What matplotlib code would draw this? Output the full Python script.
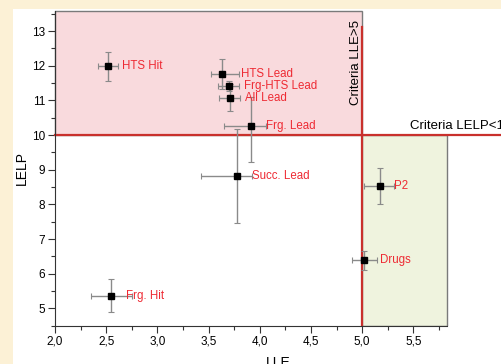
import numpy as np
import matplotlib
matplotlib.use("Agg")
import matplotlib.pyplot as plt
from matplotlib.patches import Rectangle
from matplotlib.ticker import MultipleLocator, FuncFormatter

plt.rcParams['font.family'] = ['Liberation Sans', 'DejaVu Sans']

# data
names = ['HTS Hit', 'HTS Lead', 'Frg-HTS Lead', 'All Lead', 'Frg. Lead',
         'Succ. Lead', 'Frg. Hit', 'P2', 'Drugs']
lle = [2.515, 3.634, 3.696, 3.706, 3.914, 3.777, 2.547, 5.174, 5.02]
lelp = [11.98, 11.76, 11.42, 11.08, 10.25, 8.83, 5.37, 8.53, 6.39]
lle_err_lo = [0.10, 0.11, 0.10, 0.10, 0.26, 0.35, 0.20, 0.16, 0.12]
lle_err_hi = [0.10, 0.16, 0.10, 0.10, 0.15, 0.15, 0.20, 0.14, 0.12]
lelp_err_lo = [0.41, 0.42, 0.15, 0.38, 1.03, 1.36, 0.48, 0.53, 0.27]
lelp_err_hi = [0.41, 0.42, 0.15, 0.38, 0.85, 1.34, 0.48, 0.51, 0.27]
label_dx = [0.04, 0.02, 0.05, 0.05, 0.0, 0.0, -0.05, 0.0, 0.03]  # gap to label

fig = plt.figure(figsize=(5.01, 3.64), dpi=100, facecolor='#fcf1d6')
fig.patches.append(Rectangle((13 / 501, 0), 1, 1 - 9 / 364, transform=fig.transFigure,
                             facecolor='white', edgecolor='none', zorder=-10))

ax = fig.add_axes([55 / 501, 1 - 325.7 / 364, 1 - 55 / 501, 314.7 / 364])
ax.set_facecolor('none')
ax.set_xlim(2.0, 6.355)
ax.set_ylim(4.5, 13.577)

# criteria regions
ax.add_patch(Rectangle((2.0, 10), 3.0, 3.577, facecolor='#f9dadd', edgecolor='#7a7a7a',
                       lw=1.0, zorder=1, clip_on=False))
ax.add_patch(Rectangle((5.0, 4.5), 0.83, 5.5, facecolor='#eff3de', edgecolor='#7a7a7a',
                       lw=1.0, zorder=1))
ax.plot([2.0, 6.4], [10, 10], color='#c9302c', lw=1.6, zorder=2, clip_on=False)
ax.plot([5.0, 5.0], [4.5, 13.12], color='#c9302c', lw=1.6, zorder=2)

ax.text(5.47, 10.08, 'Criteria LELP<10', fontsize=9.5, color='black', ha='left', va='bottom')
ax.text(4.94, 12.1, 'Criteria LLE>5', fontsize=9.5, color='black', rotation=90,
        ha='center', va='center')

ax.errorbar(lle, lelp, xerr=[lle_err_lo, lle_err_hi], yerr=[lelp_err_lo, lelp_err_hi],
            fmt='s', color='black', ms=4.5, ecolor='#8a8a8a', elinewidth=1.0,
            capsize=2.5, capthick=0.8, zorder=4)

for i, n in enumerate(names):
    ax.text(lle[i] + lle_err_hi[i] + label_dx[i], lelp[i], n, color='#ee2a33',
            fontsize=8.3, ha='left', va='center', zorder=5)

for s in ['top', 'right']:
    ax.spines[s].set_visible(False)
ax.spines['bottom'].set_bounds(2.0, 5.83)
ax.spines['left'].set_color('#333333')
ax.spines['bottom'].set_color('#333333')

ax.set_xticks([2.0, 2.5, 3.0, 3.5, 4.0, 4.5, 5.0, 5.5])
ax.set_xticks([2.25, 2.75, 3.25, 3.75, 4.25, 4.75, 5.25, 5.75], minor=True)
ax.set_yticks(range(5, 14))
ax.yaxis.set_minor_locator(MultipleLocator(0.5))
ax.xaxis.set_major_formatter(FuncFormatter(lambda v, p: ('%.1f' % v).replace('.', ',')))
ax.tick_params(which='major', direction='out', length=5, width=0.8, color='#333333',
               labelsize=8.5, pad=2)
ax.tick_params(which='minor', direction='out', length=3, width=0.8, color='#333333')

ax.set_xlabel('LLE', fontsize=10, labelpad=6)
ax.set_ylabel('LELP', fontsize=10, labelpad=2.5)

fig.savefig('out.png', dpi=100, facecolor=fig.get_facecolor())
